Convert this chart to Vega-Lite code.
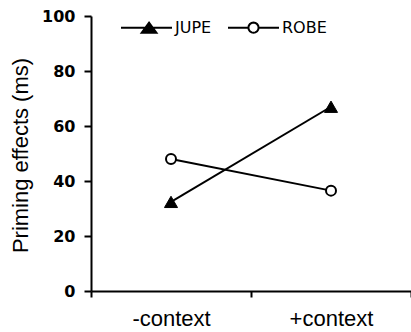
{
  "$schema": "https://vega.github.io/schema/vega-lite/v6.json",
  "width": 320,
  "height": 275,
  "autosize": {"type": "none"},
  "padding": {"left": 91, "top": 16, "right": 0, "bottom": 41},
  "background": "white",
  "config": {
    "view": {"stroke": null},
    "axis": {
      "domainColor": "black",
      "domainWidth": 2,
      "tickColor": "black",
      "tickWidth": 2,
      "grid": false,
      "labelColor": "black",
      "titleColor": "black"
    }
  },
  "data": {
    "values": [
      {"cond": "-context", "series": "JUPE", "value": 32.4},
      {"cond": "+context", "series": "JUPE", "value": 67},
      {"cond": "-context", "series": "ROBE", "value": 48},
      {"cond": "+context", "series": "ROBE", "value": 36.5}
    ]
  },
  "encoding": {
    "x": {
      "field": "cond",
      "type": "nominal",
      "sort": ["-context", "+context"],
      "scale": {"type": "band", "paddingInner": 0, "paddingOuter": 0},
      "axis": {
        "title": null,
        "labelAngle": 0,
        "tickBand": "extent",
        "tickSize": 6,
        "labelFont": "Liberation Sans",
        "labelFontSize": 22,
        "labelPadding": 11,
        "labelBaseline": "top"
      }
    },
    "y": {
      "field": "value",
      "type": "quantitative",
      "scale": {"domain": [0, 100], "nice": false},
      "axis": {
        "values": [0, 20, 40, 60, 80, 100],
        "tickSize": 7,
        "labelPadding": 9,
        "labelFont": "DejaVu Sans",
        "labelFontWeight": "bold",
        "labelFontSize": 16,
        "title": "Priming effects (ms)",
        "titleFont": "Liberation Sans",
        "titleFontSize": 22,
        "titleFontWeight": "normal",
        "titleAngle": -90,
        "titleX": -64,
        "titleY": 139,
        "titleAlign": "center",
        "titleBaseline": "alphabetic"
      }
    }
  },
  "layer": [
    {
      "mark": {"type": "line", "color": "black", "strokeWidth": 2},
      "encoding": {"detail": {"field": "series", "type": "nominal"}}
    },
    {
      "transform": [{"filter": "datum.series === 'JUPE'"}],
      "mark": {"type": "point", "shape": "triangle-up", "filled": true, "fill": "black", "stroke": "black", "strokeWidth": 1, "opacity": 1, "size": 170}
    },
    {
      "transform": [{"filter": "datum.series === 'ROBE'"}],
      "mark": {"type": "point", "shape": "circle", "filled": true, "fill": "white", "stroke": "black", "strokeWidth": 2, "opacity": 1, "size": 100}
    },
    {
      "transform": [{"filter": "datum.series === 'none'"}],
      "mark": {"type": "point", "filled": true, "stroke": "black", "strokeWidth": 2, "opacity": 1},
      "encoding": {
        "fill": {
          "field": "series",
          "type": "nominal",
          "scale": {"domain": ["JUPE", "ROBE"], "range": ["black", "white"]},
          "legend": {
            "title": null,
            "orient": "none",
            "legendX": 29,
            "legendY": -15,
            "direction": "horizontal",
            "padding": 0,
            "symbolSize": 2601,
            "symbolStrokeWidth": 2,
            "symbolStrokeColor": "black",
            "labelFont": "DejaVu Sans",
            "labelFontSize": 16,
            "labelColor": "black",
            "labelOffset": 2,
            "columnPadding": 12
          }
        },
        "shape": {
          "field": "series",
          "type": "nominal",
          "scale": {
            "domain": ["JUPE", "ROBE"],
            "range": [
              "M-1,0L1,0M-0.19,0.2L0.1,-0.2L0.39,0.2Z",
              "M-1,0L-0.2,0M0.2,0L1,0M0.2,0L0.1848,0.0765L0.1414,0.1414L0.0765,0.1848L0,0.2L-0.0765,0.1848L-0.1414,0.1414L-0.1848,0.0765L-0.2,0L-0.1848,-0.0765L-0.1414,-0.1414L-0.0765,-0.1848L0,-0.2L0.0765,-0.1848L0.1414,-0.1414L0.1848,-0.0765Z"
            ]
          }
        }
      }
    }
  ]
}
